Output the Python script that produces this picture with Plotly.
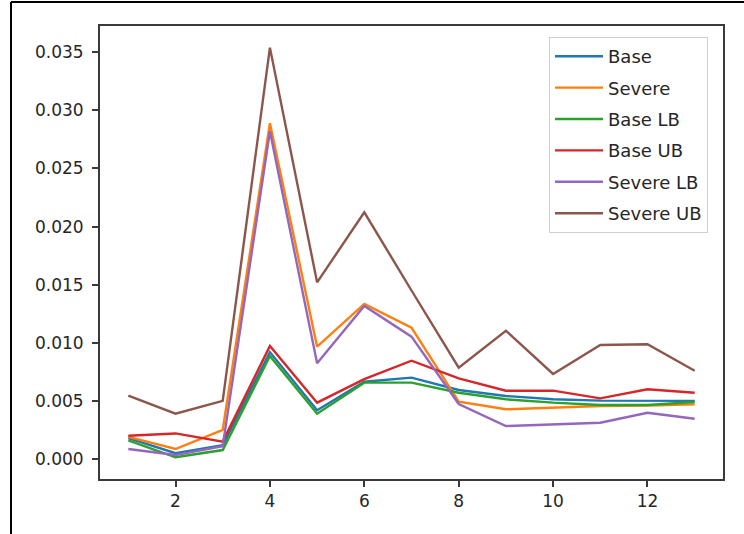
import plotly.graph_objects as go

# Period index shared by all series
periods = list(range(1, 14))

base = [0.0018, 0.0005, 0.0012, 0.0092, 0.0042, 0.00665, 0.0070, 0.00594, 0.00542, 0.00514, 0.00502, 0.00502, 0.0050]
severe = [0.0019, 0.00086, 0.0025, 0.0289, 0.00967, 0.01334, 0.0113, 0.00493, 0.00428, 0.00442, 0.00456, 0.0046, 0.0047]
base_lb = [0.0016, 0.00015, 0.00077, 0.00886, 0.0039, 0.00657, 0.00657, 0.0057, 0.00514, 0.00485, 0.00465, 0.00465, 0.0049]
base_ub = [0.0020, 0.0022, 0.0015, 0.00972, 0.00485, 0.00688, 0.00846, 0.00694, 0.00588, 0.00588, 0.00522, 0.0060, 0.0057]
severe_lb = [0.00086, 0.00034, 0.0011, 0.0282, 0.00824, 0.01317, 0.01053, 0.00473, 0.00284, 0.00301, 0.00312, 0.00398, 0.00347]
severe_ub = [0.00545, 0.0039, 0.0050, 0.0354, 0.0152, 0.02123, 0.0145, 0.00786, 0.01104, 0.00732, 0.00981, 0.00987, 0.0076]

series_names = ["Base", "Severe", "Base LB", "Base UB", "Severe LB", "Severe UB"]
series_values = [base, severe, base_lb, base_ub, severe_lb, severe_ub]
series_colors = ["#1f77b4", "#ff7f0e", "#2ca02c", "#d62728", "#9467bd", "#8c564b"]

x_ticks = [2, 4, 6, 8, 10, 12]
y_ticks = [0.000, 0.005, 0.010, 0.015, 0.020, 0.025, 0.030, 0.035]

fig = go.Figure()
for name, vals, color in zip(series_names, series_values, series_colors):
    fig.add_trace(go.Scatter(
        x=periods, y=vals, mode="lines", name=name, legendgroup=name,
        line=dict(color=color, width=2.4),
    ))

W, H = 744, 534
L, R, T, B = 100, 21, 26, 55
pw, ph = W - L - R, H - T - B


def px_x(px):
    return (px - L) / pw


def px_y(py):
    return 1 - (py - T) / ph


axis_common = dict(
    showgrid=False, zeroline=False, showline=True, mirror=True,
    linecolor="#3a3a3a", linewidth=2,
    ticks="outside", ticklen=6, tickwidth=1.5, tickcolor="#3a3a3a",
    tickfont=dict(family="DejaVu Sans", size=17, color="#262626"),
)

fig.update_layout(
    width=W, height=H,
    margin=dict(l=L, r=R, t=T, b=B),
    paper_bgcolor="white", plot_bgcolor="white",
    xaxis=dict(range=[0.4, 13.6], tickvals=x_ticks, **axis_common),
    yaxis=dict(range=[-0.00172, 0.03726], tickvals=y_ticks, tickformat=".3f",
               ticklabelstandoff=5, **axis_common),
    legend=dict(
        x=px_x(549), y=px_y(37), xanchor="left", yanchor="top",
        bgcolor="rgba(255,255,255,0.85)", bordercolor="#d0d0d0", borderwidth=1,
        font=dict(family="DejaVu Sans", size=18, color="#262626"),
        tracegroupgap=5, traceorder="grouped", itemwidth=48,
    ),
    showlegend=True,
)

# Outer frame lines along the top and left edges of the figure
fig.add_shape(type="line", xref="paper", yref="paper",
              x0=px_x(11), x1=px_x(744), y0=px_y(2), y1=px_y(2),
              line=dict(color="black", width=2))
fig.add_shape(type="line", xref="paper", yref="paper",
              x0=px_x(11), x1=px_x(11), y0=px_y(2), y1=px_y(534),
              line=dict(color="black", width=2))

fig.write_html("out.html")
